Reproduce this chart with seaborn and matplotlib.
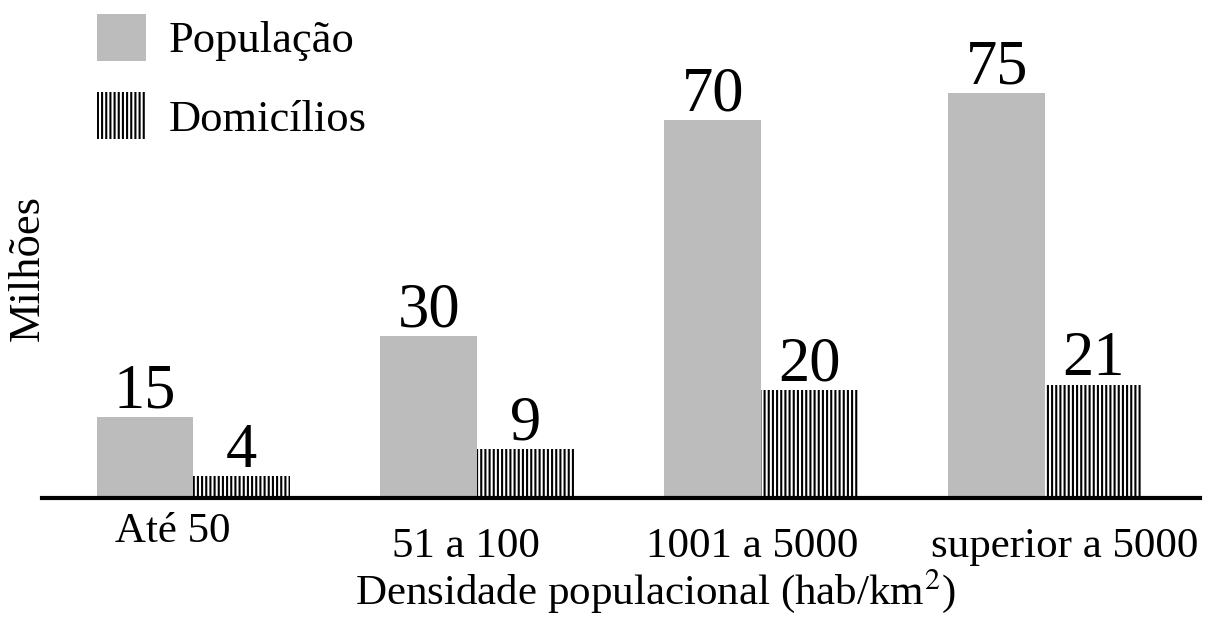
import numpy as np
import pandas as pd
import matplotlib
matplotlib.use('Agg')
import matplotlib.pyplot as plt
import seaborn as sns
from matplotlib.patches import Patch

# dados do gráfico
categorias = ['Até 50', '51 a 100', '1001 a 5000', 'superior a 5000']
populacao = [15, 30, 70, 75]
domicilios = [4, 9, 20, 21]

sns.set_theme(style='white')
plt.rcParams['font.family'] = ['Liberation Serif', 'DejaVu Serif']
plt.rcParams['mathtext.fontset'] = 'stix'
plt.rcParams['hatch.linewidth'] = 1.5
plt.rcParams['hatch.color'] = 'black'
plt.rcParams['text.color'] = 'black'

df = pd.DataFrame({
    'cat': categorias * 2,
    'serie': ['População'] * 4 + ['Domicílios'] * 4,
    'valor': populacao + domicilios,
})

fig = plt.figure(figsize=(12.14, 6.19), dpi=100)
ax = fig.add_axes([0.0346, 0.1955, 0.9539, 0.8045])

cinza = '#bcbcbc'
hachura = '||||'
sns.barplot(data=df, x='cat', y='valor', hue='serie', order=categorias,
            hue_order=['População', 'Domicílios'], palette=[cinza, 'white'],
            width=0.68, saturation=1, ax=ax, legend=False)

# hachura nas barras de domicílios
n = len(categorias)
for i, p in enumerate(ax.patches):
    p.set_linewidth(0)
    if i >= n:
        p.set_hatch(hachura)
        p.set_edgecolor('black')
    else:
        p.set_edgecolor('none')

# rótulos de valor
for p, v in zip(ax.patches, populacao + domicilios):
    ax.annotate(str(v), (p.get_x() + p.get_width() / 2, p.get_height()),
                xytext=(0, -3), textcoords='offset points',
                ha='center', va='bottom', fontsize=45)

ax.set_xlim(-0.532, 3.546)
ax.set_ylim(0, 92.2)
ax.set_yticks([])
ax.set_xticks([])
ax.set_xlabel('')
ax.set_ylabel('')
for s in ['top', 'right', 'left']:
    ax.spines[s].set_visible(False)
ax.spines['bottom'].set_linewidth(3)
ax.spines['bottom'].set_color('black')

# rótulos das categorias (desalinhados como no original)
desloc_x = [-0.07, -0.04, -0.03, 0.07]
desloc_y = [-0.068, -0.098, -0.098, -0.098]
for i, c in enumerate(categorias):
    ax.text(i + desloc_x[i], desloc_y[i], c, transform=ax.get_xaxis_transform(),
            ha='center', va='center', fontsize=31)

fig.text(0.54, 0.045, 'Densidade populacional (hab/km$^{2}$)', ha='center',
         va='center', fontsize=31)
fig.text(0.023, 0.567, 'Milhões', rotation=90, ha='center', va='center', fontsize=32)

handles = [Patch(facecolor=cinza, edgecolor='none', label='População'),
           Patch(facecolor='white', edgecolor='black', linewidth=0,
                 hatch=hachura, label='Domicílios')]
fig.legend(handles=handles, loc='upper left', bbox_to_anchor=(0.08, 0.978),
           frameon=False, fontsize=32, handlelength=1.09, handleheight=1.25,
           handletextpad=0.52, labelspacing=0.7, borderpad=0, borderaxespad=0)

fig.savefig('out.png', dpi=100)
